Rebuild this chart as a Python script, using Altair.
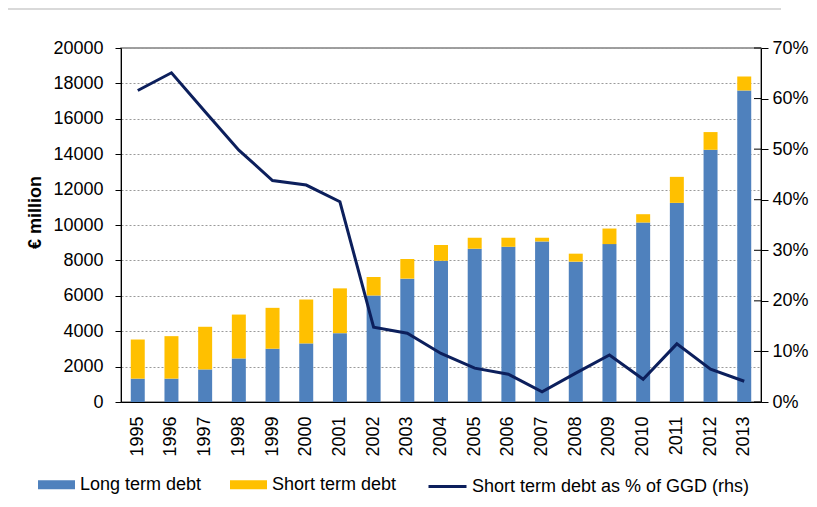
import altair as alt
import pandas as pd

years = ["1995", "1996", "1997", "1998", "1999", "2000", "2001", "2002", "2003", "2004",
         "2005", "2006", "2007", "2008", "2009", "2010", "2011", "2012", "2013"]
long_term = [1320, 1320, 1840, 2460, 3010, 3310, 3890, 6010, 6970, 7980,
             8660, 8770, 9070, 7930, 8920, 10140, 11250, 14250, 17600]
short_term = [2210, 2400, 2410, 2480, 2310, 2480, 2530, 1050, 1110, 890,
              620, 510, 210, 450, 880, 470, 1470, 1000, 790]
short_share_pct = [61.6, 65.1, 57.4, 49.8, 43.8, 42.9, 39.6, 14.8, 13.6, 9.6,
                   6.7, 5.5, 2.0, 5.7, 9.3, 4.5, 11.5, 6.5, 4.1]

bar_series = ["Long term debt", "Short term debt"]
line_series = "Short term debt as % of GGD (rhs)"
left_ticks = [0, 2000, 4000, 6000, 8000, 10000, 12000, 14000, 16000, 18000, 20000]
right_ticks = [0.0, 0.1, 0.2, 0.3, 0.4, 0.5, 0.6, 0.7]

rows = []
for i, y in enumerate(years):
    rows.append({"year": y, "series": bar_series[0], "value": long_term[i], "ord": 0})
    rows.append({"year": y, "series": bar_series[1], "value": short_term[i], "ord": 1})
bars_df = pd.DataFrame(rows)
line_df = pd.DataFrame({"year": years, "pct": [p / 100 for p in short_share_pct],
                        "series": [line_series] * len(years)})
rtick_df = pd.DataFrame({"pct": right_ticks})

FONT = "Liberation Sans"

x_enc = alt.X("year:N", sort=years,
              scale=alt.Scale(paddingInner=0.585, paddingOuter=0.29),
              axis=alt.Axis(title=None, labelAngle=270, labelFontSize=18, labelPadding=14,
                            ticks=False, tickSize=0, domainColor="black", labelColor="black",
                            grid=False, labelFont=FONT))

bars = alt.Chart(bars_df).mark_bar().encode(
    x=x_enc,
    y=alt.Y("value:Q", stack="zero",
            scale=alt.Scale(domain=[0, 20000], nice=False),
            axis=alt.Axis(values=left_ticks, format="d", title="€ million",
                          titleFontWeight="bold", titleFontSize=18, titleFont=FONT,
                          titleColor="black", titleX=-86, titleY=164, titleAngle=270,
                          titleAlign="center", titleBaseline="middle",
                          labelFontSize=18, labelFont=FONT, labelColor="black",
                          labelPadding=12, tickSize=6, tickColor="black",
                          domainColor="black", grid=True, gridColor="#9a9a9a",
                          gridDash=[2, 2], gridWidth=1)),
    color=alt.Color("series:N",
                    scale=alt.Scale(domain=bar_series, range=["#4F81BD", "#FFC000"]),
                    legend=alt.Legend(title=None, orient="none", legendX=-83, legendY=418,
                                      direction="horizontal", padding=0,
                                      symbolType="M-1,-0.243H1V0.243H-1Z", symbolSize=1369,
                                      symbolStrokeWidth=0, labelFontSize=18, labelFont=FONT,
                                      labelColor="black", labelOffset=5, columnPadding=28,
                                      labelLimit=0)),
    order=alt.Order("ord:Q"),
)

right_y = alt.Y("pct:Q", scale=alt.Scale(domain=[0, 0.7], nice=False),
                axis=alt.Axis(orient="right", values=right_ticks, format=".0%", title=None,
                              labelFontSize=18, labelFont=FONT, labelColor="black",
                              labelPadding=4, tickSize=7, tickColor="black",
                              domainColor="black", grid=False))

line = alt.Chart(line_df).mark_line(strokeWidth=3).encode(
    x=x_enc,
    y=right_y,
    stroke=alt.Stroke("series:N",
                      scale=alt.Scale(domain=[line_series], range=["#0C1F5C"]),
                      legend=alt.Legend(title=None, orient="none", legendX=306, legendY=418,
                                        direction="horizontal", padding=0,
                                        symbolType="stroke", symbolSize=1444,
                                        symbolStrokeWidth=3, labelFontSize=18, labelFont=FONT,
                                        labelColor="black", labelOffset=4, labelLimit=0)),
)

# inner half of the crossing ticks on the right axis
inner_ticks = alt.Chart(rtick_df).mark_rule(color="black", strokeWidth=1).encode(
    x=alt.value(633), x2=alt.value(640), y=right_y)

right_layer = alt.layer(line, inner_ticks)

# light outer frame of the original figure (top edge)
frame_df = pd.DataFrame({"k": [0]})
top_border = alt.Chart(frame_df).mark_rule(color="#d9d9d9", strokeWidth=2).encode(
    x=alt.value(-113), x2=alt.value(660), y=alt.value(-39), y2=alt.value(-39))

chart = alt.layer(top_border, bars, right_layer).resolve_scale(
    y="independent", color="independent"
).properties(
    width=640, height=354,
    autosize=alt.AutoSizeParams(type="none"),
    padding={"left": 113, "top": 40, "right": 48, "bottom": 97},
).configure_view(stroke="#808080", strokeWidth=1.5)

chart.save("out.html", embed_options={"renderer": "svg", "actions": False})
